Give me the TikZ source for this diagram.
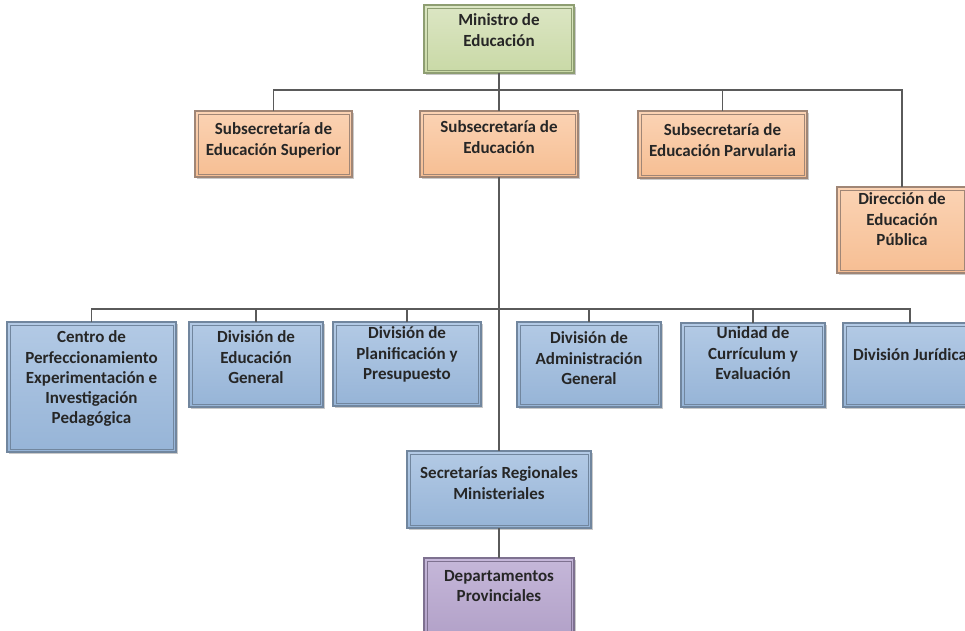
\documentclass[tikz,border=0pt]{standalone}
\usepackage{fontspec}
\setmainfont{Carlito}
\usetikzlibrary{shadows}
\definecolor{txt}{HTML}{262626}
\definecolor{lnc}{HTML}{5A5A5A}
\definecolor{gtop}{HTML}{DCE6C4}\definecolor{gbot}{HTML}{C9D9A6}\definecolor{gbrd}{HTML}{8E9E72}
\definecolor{otop}{HTML}{FBD3B4}\definecolor{obot}{HTML}{F6BE93}\definecolor{obrd}{HTML}{A08676}
\definecolor{btop}{HTML}{B3CAE5}\definecolor{bbot}{HTML}{96B4D7}\definecolor{bbrd}{HTML}{71869E}
\definecolor{ptop}{HTML}{C5B7D9}\definecolor{pbot}{HTML}{B2A1C8}\definecolor{pbrd}{HTML}{7E7190}
\newcommand\bt[4]{\parbox[c][\dimexpr#2pt*3/4\relax][t]{\dimexpr#1pt*3/4\relax}{\centering\fontsize{12.75}{15.2}\selectfont\bfseries\vspace*{\dimexpr#3pt*3/4\relax}#4\par}}
\tikzset{
  sz/.style 2 args={minimum width=#1*0.75pt, minimum height=#2*0.75pt},
  orgbox/.style={rectangle, inner sep=0pt, outer sep=0pt, line width=0.8pt, text=txt,
    drop shadow={shadow xshift=1.4pt, shadow yshift=-1.4pt, opacity=0.35, fill=black!60},
    path picture={\draw[line width=0.5pt, draw=#1]
      ([shift={(2.2pt,2.2pt)}]path picture bounding box.south west) rectangle
      ([shift={(-2.2pt,-2.2pt)}]path picture bounding box.north east);}},
  greenbox/.style={orgbox=gbrd, draw=gbrd, top color=gtop, bottom color=gbot},
  orangebox/.style={orgbox=obrd, draw=obrd, top color=otop, bottom color=obot},
  bluebox/.style={orgbox=bbrd, draw=bbrd, top color=btop, bottom color=bbot},
  purplebox/.style={orgbox=pbrd, draw=pbrd, top color=ptop, bottom color=pbot},
  conn/.style={draw=lnc, line width=0.95pt}
}
\begin{document}
\begin{tikzpicture}[x=0.75pt, y=-0.75pt]
\clip (0,0) rectangle (965,631);
\fill[white] (0,0) rectangle (965,631);
% level 0
\node[greenbox, sz={150}{68}] (min) at (499,39) {\bt{150}{68}{9}{Ministro de\\Educación}};
% level 1
\node[orangebox, sz={157}{66}] (sup) at (273.5,144) {\bt{157}{66}{12}{Subsecretaría de\\Educación Superior}};
\node[orangebox, sz={158}{66}] (sedu) at (499,144) {\bt{158}{66}{10}{Subsecretaría de\\Educación}};
\node[orangebox, sz={169}{67}] (parv) at (722.5,144.5) {\bt{169}{67}{13}{Subsecretaría de\\Educación Parvularia}};
\node[orangebox, sz={130}{86}] (dir) at (902,230) {\bt{130}{86}{6}{Dirección de\\Educación\\Pública}};
% level 2
\node[bluebox, sz={169}{130}] (cen) at (91.5,387) {\bt{169}{130}{9}{Centro de\\Perfeccionamiento\\Experimentación e\\Investigación\\Pedagógica}};
\node[bluebox, sz={134}{85}] (deg) at (256,364.5) {\bt{134}{85}{9}{División de\\Educación\\General}};
\node[bluebox, sz={148}{84}] (plan) at (407,364) {\bt{148}{84}{5}{División de\\Planificación y\\Presupuesto}};
\node[bluebox, sz={144}{85}] (adm) at (589,364.5) {\bt{144}{85}{10}{División de\\Administración\\General}};
\node[bluebox, sz={144}{84}] (uni) at (753,365) {\bt{144}{84}{4}{Unidad de\\Currículum y\\Evaluación}};
\node[bluebox, sz={134}{84}] (jur) at (910,365) {\bt{134}{84}{26}{División Jurídica}};
% level 3
\node[bluebox, sz={184}{77}] (sec) at (499,489.5) {\bt{184}{77}{16}{Secretarías Regionales\\Ministeriales}};
\node[purplebox, sz={150}{78}] (dpto) at (499,597) {\bt{150}{78}{12}{Departamentos\\Provinciales}};
% hubs
\coordinate (hubA) at (499,90);
\coordinate (hubB) at (499,309);
% connectors
\draw[conn] (min.south) -- (sedu.north);
\draw[conn] (sup.north) |- (hubA) -| (dir.north);
\draw[conn] (parv.north) -- (parv.north |- hubA);
\draw[conn] (sedu.south) -- (sec.north);
\draw[conn] (cen.north) |- (hubB) -| (jur.north);
\draw[conn] (deg.north) -- (deg.north |- hubB);
\draw[conn] (plan.north) -- (plan.north |- hubB);
\draw[conn] (adm.north) -- (adm.north |- hubB);
\draw[conn] (uni.north) -- (uni.north |- hubB);
\draw[conn] (sec.south) -- (dpto.north);
\end{tikzpicture}
\end{document}
